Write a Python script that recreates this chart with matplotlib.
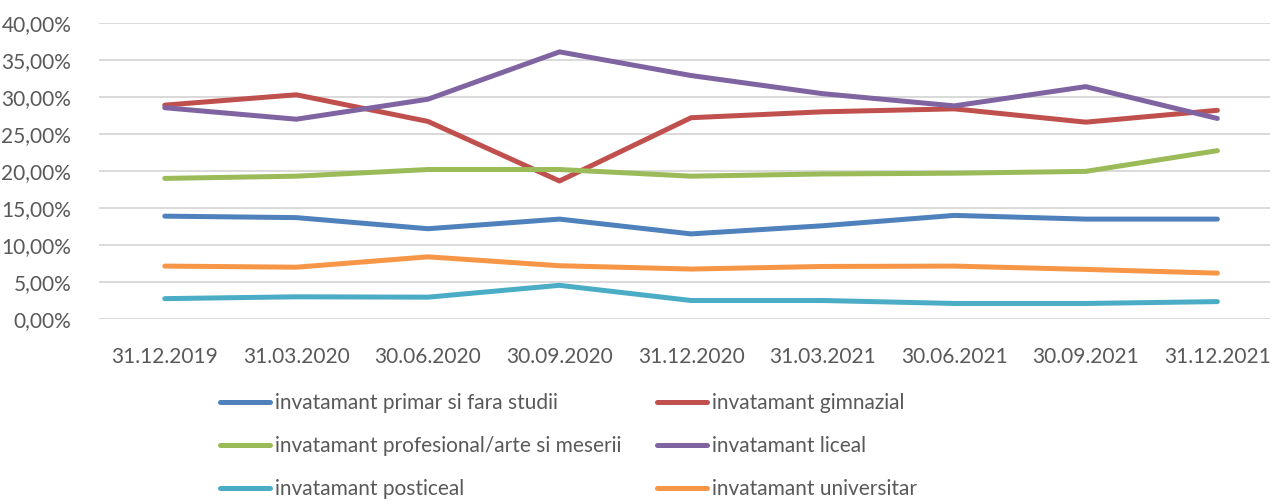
import matplotlib.pyplot as plt
from matplotlib.ticker import FuncFormatter

# quarter end dates
dates = ['31.12.2019', '31.03.2020', '30.06.2020', '30.09.2020', '31.12.2020',
         '31.03.2021', '30.06.2021', '30.09.2021', '31.12.2021']

# shares by education level (%)
primar = [13.9, 13.7, 12.2, 13.5, 11.5, 12.6, 14.0, 13.5, 13.5]
gimnazial = [28.9, 30.3, 26.7, 18.65, 27.2, 28.0, 28.4, 26.6, 28.2]
profesional = [19.0, 19.3, 20.2, 20.2, 19.3, 19.6, 19.7, 19.95, 22.75]
liceal = [28.55, 27.0, 29.7, 36.1, 32.9, 30.45, 28.8, 31.4, 27.1]
posticeal = [2.75, 3.0, 2.95, 4.55, 2.5, 2.5, 2.1, 2.1, 2.35]
universitar = [7.15, 7.0, 8.4, 7.2, 6.75, 7.1, 7.15, 6.7, 6.2]

series = [
    ('invatamant primar si fara studii', primar, '#4F81BD'),
    ('invatamant gimnazial', gimnazial, '#C0504D'),
    ('invatamant profesional/arte si meserii', profesional, '#9BBB59'),
    ('invatamant liceal', liceal, '#8064A2'),
    ('invatamant posticeal', posticeal, '#4BACC6'),
    ('invatamant universitar', universitar, '#F79646'),
]

plt.rcParams['font.family'] = ['Lato', 'DejaVu Sans']

fig = plt.figure(figsize=(12.73, 5.04), dpi=100)
ax = fig.add_axes([99 / 1273, (504 - 319) / 504, 1171 / 1273, 296 / 504])

x = list(range(len(dates)))
lines = []
for name, vals, color in series:
    ln, = ax.plot(x, vals, color=color, linewidth=3.6, solid_capstyle='round',
                  solid_joinstyle='round', label=name)
    lines.append(ln)

ax.set_xlim(-0.5, 8.4)
ax.set_ylim(0, 40)
ax.set_yticks(range(0, 41, 5))
ax.yaxis.set_major_formatter(FuncFormatter(lambda v, p: f'{v:.2f}%'.replace('.', ',')))
ax.set_xticks(x)
ax.set_xticklabels(dates)
ax.grid(axis='y', color='#D9D9D9', linewidth=1.4)
ax.set_axisbelow(True)
for s in ax.spines.values():
    s.set_visible(False)
ax.tick_params(axis='both', length=0, labelsize=15, colors='#595959')
ax.tick_params(axis='x', pad=20)
ax.tick_params(axis='y', pad=20)

# legend is filled row by row in the reference, matplotlib fills by column
order = [0, 2, 4, 1, 3, 5]
fig.legend([lines[i] for i in order], [series[i][0] for i in order],
           loc='upper left', bbox_to_anchor=(220 / 1273, 1 - 393 / 504), ncol=2,
           frameon=False, fontsize=15, labelcolor='#595959', handlelength=2.4,
           handletextpad=0.25, columnspacing=1.7, labelspacing=1.1,
           borderaxespad=0, borderpad=0)

fig.savefig('out.png', dpi=100)
